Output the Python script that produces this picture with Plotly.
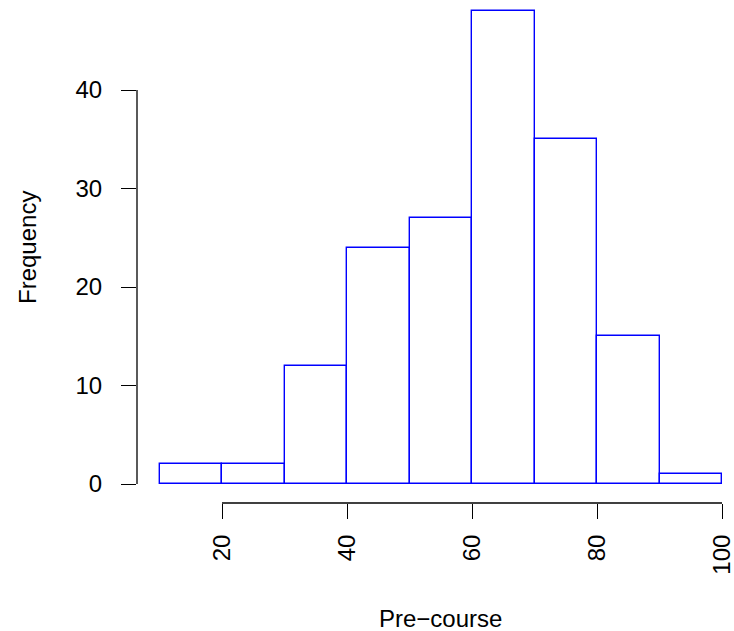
import plotly.graph_objects as go

bin_edges = [10, 20, 30, 40, 50, 60, 70, 80, 90, 100]
counts = [2, 2, 12, 24, 27, 48, 35, 15, 1]
x_ticks = [20, 40, 60, 80, 100]
y_ticks = [0, 10, 20, 30, 40]
x_title = "Pre\u2212course"
y_title = "Frequency"

centers = [(a + b) / 2 for a, b in zip(bin_edges[:-1], bin_edges[1:])]
widths = [b - a for a, b in zip(bin_edges[:-1], bin_edges[1:])]

W, H = 734, 631
L, R, T, B = 137, 5, 5, 128
pw, ph = W - L - R, H - T - B

fig = go.Figure(go.Bar(
    x=centers, y=counts, width=widths,
    marker=dict(color="white", line=dict(color="#0000FF", width=1.4)),
    hoverinfo="x+y",
))

font = dict(family="Liberation Sans, Arial, Helvetica, sans-serif", size=24, color="black")

fig.update_layout(
    width=W, height=H,
    margin=dict(l=L, r=R, t=T, b=B, autoexpand=False),
    plot_bgcolor="white", paper_bgcolor="white",
    showlegend=False, bargap=0, font=font,
    xaxis=dict(range=[6.4, 6.4 + pw / 6.25], tickvals=x_ticks, ticktext=[str(v) for v in x_ticks],
               ticks="outside", ticklen=15, tickwidth=1.3, tickcolor="black",
               showline=False, showgrid=False, zeroline=False, tickangle=-90,
               ticklabelstandoff=6, ticklabeloverflow="allow", tickfont=font, automargin=False),
    yaxis=dict(range=[-1.92, -1.92 + ph / 9.85], tickvals=y_ticks, ticktext=[str(v) for v in y_ticks],
               ticks="outside", ticklen=15, tickwidth=1.3, tickcolor="black",
               showline=False, showgrid=False, zeroline=False,
               ticklabelstandoff=14, ticklabeloverflow="allow", tickfont=font, automargin=False),
    shapes=[
        dict(type="line", xref="paper", yref="y", x0=0, x1=0, y0=y_ticks[0], y1=y_ticks[-1],
             line=dict(color="black", width=1.3)),
        dict(type="line", xref="x", yref="paper", x0=x_ticks[0], x1=x_ticks[-1], y0=0, y1=0,
             line=dict(color="black", width=1.3)),
    ],
    annotations=[
        dict(text=y_title, xref="paper", yref="paper", x=(28 - L) / pw, y=(H - B - 248) / ph,
             textangle=-90, showarrow=False, xanchor="center", yanchor="middle", font=font),
        dict(text=x_title, xref="paper", yref="paper", x=(440.7 - L) / pw, y=(H - B - 618) / ph,
             showarrow=False, xanchor="center", yanchor="middle", font=font),
    ],
)

fig.write_html("out.html", config={"displayModeBar": False},
               post_script="document.body.style.margin='0px';")
